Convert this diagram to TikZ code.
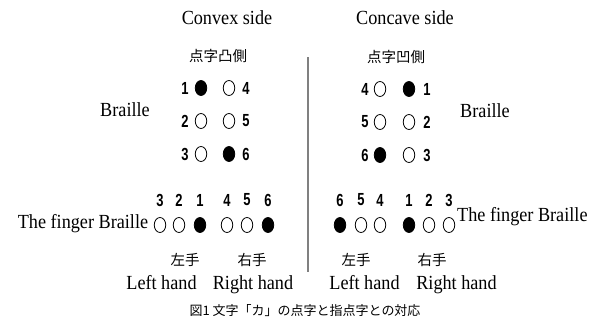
\documentclass[tikz,border=0pt]{standalone}
\usepackage{fontspec}
\usetikzlibrary{shapes.geometric}
\newfontfamily\tnr[FakeStretch=0.91]{Liberation Serif}
\newfontfamily\numf[FakeStretch=0.74]{Liberation Sans}
\newfontfamily\jp{Noto Sans CJK JP}
\begin{document}
\begin{tikzpicture}[x=1pt,y=-1pt,
  en/.style={font=\tnr\fontsize{20}{22}\selectfont, inner sep=0pt, anchor=base},
  jl/.style={font=\jp\fontsize{14.5}{16}\selectfont, inner sep=0pt},
  num/.style={font=\numf\bfseries\fontsize{17.5}{18}\selectfont, inner sep=0pt},
  dot/.style={ellipse, draw, line width=0.8pt, minimum width=11.5pt, minimum height=15pt, inner sep=0pt},
  full/.style={dot, fill=black}]
\useasboundingbox (0,0) rectangle (606,325);

% headings
\node[en] (convex) at (227,24) {Convex side};
\node[en] (concave) at (405,24) {Concave side};
\node[jl] (ttl) at (218,56) {点字凸側};
\node[jl] (ttr) at (396,57) {点字凹側};

% left braille cell
\node[num] (ln1) at (185,88) {1};
\node[full] (lc1) at (201,88) {};
\node[dot] (lc4) at (229,88) {};
\node[num] (ln4) at (246,88) {4};
\node[num] (ln2) at (185,121) {2};
\node[dot] (lc2) at (201,121) {};
\node[dot] (lc5) at (229,121) {};
\node[num] (ln5) at (246,121) {5};
\node[num] (ln3) at (185,154) {3};
\node[dot] (lc3) at (201,154) {};
\node[full] (lc6) at (229,154) {};
\node[num] (ln6) at (246,154) {6};
\node[en] (brl) at (125,116) {Braille};

% right braille cell
\node[num] (rn4) at (365,89) {4};
\node[dot] (rc4) at (380,89) {};
\node[full] (rc1) at (409,89) {};
\node[num] (rn1) at (427,89) {1};
\node[num] (rn5) at (365,122) {5};
\node[dot] (rc5) at (380,122) {};
\node[dot] (rc2) at (409,122) {};
\node[num] (rn2) at (427,122) {2};
\node[num] (rn6) at (365,155) {6};
\node[full] (rc6) at (380,155) {};
\node[dot] (rc3) at (409,155) {};
\node[num] (rn3) at (427,155) {3};
\node[en] (brr) at (485,117) {Braille};

% left finger braille
\node[num] (lf3) at (160,200) {3};
\node[num] (lf2) at (179,200) {2};
\node[num] (lf1) at (200,200) {1};
\node[num] (lf4) at (227,200) {4};
\node[num] (lf5) at (247,200) {5};
\node[num] (lf6) at (268,200) {6};
\node[dot] (ld3) at (160,225) {};
\node[dot] (ld2) at (179,225) {};
\node[full] (ld1) at (200,225) {};
\node[dot] (ld4) at (227,225) {};
\node[dot] (ld5) at (247,225) {};
\node[full] (ld6) at (268,225) {};
\node[en] (fbl) at (83,228) {The finger Braille};

% right finger braille
\node[num] (rf6) at (340,200) {6};
\node[num] (rf5) at (361,200) {5};
\node[num] (rf4) at (380,200) {4};
\node[num] (rf1) at (409,200) {1};
\node[num] (rf2) at (429,200) {2};
\node[num] (rf3) at (449,200) {3};
\node[full] (rd6) at (340,225) {};
\node[dot] (rd5) at (361,225) {};
\node[dot] (rd4) at (380,225) {};
\node[full] (rd1) at (409,225) {};
\node[dot] (rd2) at (429,225) {};
\node[dot] (rd3) at (449,225) {};
\node[en, anchor=base west] (fbr) at (457,221) {The finger Braille};

% hands
\node[jl] (lhj1) at (185,260) {左手};
\node[jl] (rhj1) at (252,260) {右手};
\node[en] (lh1) at (161.5,289) {Left hand};
\node[en] (rh1) at (253,289) {Right hand};
\node[jl] (lhj2) at (356,260) {左手};
\node[jl] (rhj2) at (432,260) {右手};
\node[en] (lh2) at (364.5,289) {Left hand};
\node[en] (rh2) at (456.5,289) {Right hand};

% divider
\coordinate (vt) at (308,57);
\coordinate (vb) at (308,272);
\draw[gray, line width=1.2pt] (vt) -- (vb);

% caption
\node[font=\jp\fontsize{13}{15}\selectfont, inner sep=0pt] (cap) at (305,311) {図1 文字「カ」の点字と指点字との対応};
\end{tikzpicture}
\end{document}
